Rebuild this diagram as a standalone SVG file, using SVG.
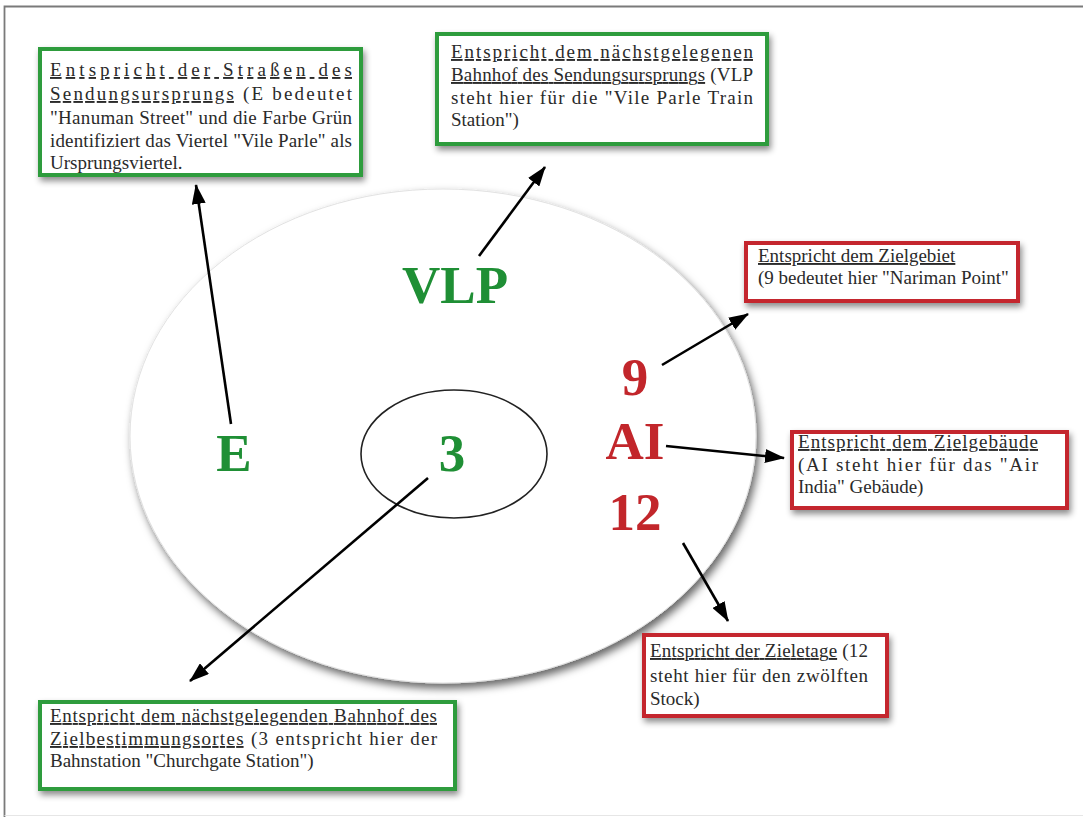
<svg xmlns="http://www.w3.org/2000/svg" width="1083" height="818" viewBox="0 0 1083 818">
<style>
.t{font-family:"Liberation Serif","Times New Roman",serif;font-size:19px;fill:#2a2a2a}
.u{text-decoration:underline}
.big{font-family:"Liberation Serif","Times New Roman",serif;font-weight:bold;font-size:53px;text-anchor:middle}
.g{fill:#1f8f35}
.r{fill:#c2262b}
.bg{fill:#fff;stroke:#2f9c3d;stroke-width:4}
.br{fill:#fff;stroke:#c4262e;stroke-width:4}
.conn line{stroke:#000;stroke-width:2.6;marker-end:url(#ah)}
</style>
<defs>
<filter id="sh" x="-10%" y="-10%" width="125%" height="135%">
<feDropShadow dx="2" dy="4" stdDeviation="3" flood-color="#000" flood-opacity="0.45"/>
</filter>
<filter id="esh" x="-10%" y="-10%" width="125%" height="125%">
<feDropShadow dx="3" dy="5" stdDeviation="4" flood-color="#000" flood-opacity="0.6"/>
</filter>
<marker id="ah" viewBox="0 0 20 14" refX="19" refY="7" markerWidth="20" markerHeight="14" markerUnits="userSpaceOnUse" orient="auto">
<path d="M0,0 L20,7 L0,14 z" fill="#000"/>
</marker>
</defs>
<rect width="1083" height="818" fill="#fff"/>
<path d="M4.5,817 L4.5,6.5 L1083,6.5" fill="none" stroke="#7a7a7a" stroke-width="1.8"/>
<line x1="4.5" y1="815.5" x2="1083" y2="815.5" stroke="#e6e6e6" stroke-width="1"/>

<g id="disc">
<ellipse cx="443" cy="436" rx="313" ry="247" fill="#fff" stroke="#e2e2e2" stroke-width="1" filter="url(#esh)"/>
<ellipse cx="454" cy="454" rx="93" ry="64" fill="none" stroke="#222" stroke-width="1.6"/>
</g>

<g id="label-VLP"><text class="big g" x="455" y="303">VLP</text></g>
<g id="label-E"><text class="big g" x="234" y="471">E</text></g>
<g id="label-3"><text class="big g" x="452" y="471">3</text></g>
<g id="label-9"><text class="big r" x="635" y="395">9</text></g>
<g id="label-AI"><text class="big r" x="635" y="459">AI</text></g>
<g id="label-12"><text class="big r" x="635" y="530">12</text></g>

<g class="conn" id="connectors">
<line x1="231" y1="424" x2="196" y2="185"/>
<line x1="479" y1="256" x2="545" y2="167"/>
<line x1="662" y1="365" x2="748" y2="314"/>
<line x1="666" y1="446" x2="784" y2="458"/>
<line x1="683" y1="543" x2="728" y2="621"/>
<line x1="428" y1="478" x2="190" y2="681"/>
</g>

<g id="box-strasse">
<rect class="bg" x="40" y="49" width="321" height="126" filter="url(#sh)"/>
<text class="t" x="50" y="76" textLength="302" lengthAdjust="spacing"><tspan class="u">Entspricht der Straßen des</tspan></text>
<text class="t" x="50" y="100" textLength="302" lengthAdjust="spacing"><tspan class="u">Sendungsursprungs</tspan> (E bedeutet</text>
<text class="t" x="50" y="124" textLength="302" lengthAdjust="spacing">"Hanuman Street" und die Farbe Grün</text>
<text class="t" x="50" y="147" textLength="302" lengthAdjust="spacing">identifiziert das Viertel "Vile Parle" als</text>
<text class="t" x="50" y="169">Ursprungsviertel.</text>
</g>

<g id="box-bahnhof-ursprung">
<rect class="bg" x="437" y="34" width="330" height="110" filter="url(#sh)"/>
<text class="t" x="451" y="58" textLength="302" lengthAdjust="spacing"><tspan class="u">Entspricht dem nächstgelegenen</tspan></text>
<text class="t" x="451" y="81" textLength="302" lengthAdjust="spacing"><tspan class="u">Bahnhof des Sendungsursprungs</tspan> (VLP</text>
<text class="t" x="451" y="104" textLength="302" lengthAdjust="spacing">steht hier für die "Vile Parle Train</text>
<text class="t" x="451" y="126">Station")</text>
</g>

<g id="box-zielgebiet">
<rect class="br" x="746" y="243" width="272" height="58" filter="url(#sh)"/>
<text class="t" x="758" y="262"><tspan class="u">Entspricht dem Zielgebiet</tspan></text>
<text class="t" x="758" y="284">(9 bedeutet hier "Nariman Point"</text>
</g>

<g id="box-zielgebaeude">
<rect class="br" x="792" y="432" width="275" height="76" filter="url(#sh)"/>
<text class="t" x="798" y="448" textLength="240" lengthAdjust="spacing"><tspan class="u">Entspricht dem Zielgebäude</tspan></text>
<text class="t" x="798" y="471" textLength="240" lengthAdjust="spacing">(AI steht hier für das "Air</text>
<text class="t" x="798" y="493">India" Gebäude)</text>
</g>

<g id="box-zieletage">
<rect class="br" x="644" y="635" width="243" height="81" filter="url(#sh)"/>
<text class="t" x="650" y="657" textLength="218" lengthAdjust="spacing"><tspan class="u">Entspricht der Zieletage</tspan> (12</text>
<text class="t" x="650" y="682" textLength="218" lengthAdjust="spacing">steht hier für den zwölften</text>
<text class="t" x="650" y="705">Stock)</text>
</g>

<g id="box-bahnhof-ziel">
<rect class="bg" x="40" y="702" width="415" height="87" filter="url(#sh)"/>
<text class="t" x="50" y="722" textLength="387" lengthAdjust="spacing"><tspan class="u">Entspricht dem nächstgelegenden Bahnhof des</tspan></text>
<text class="t" x="50" y="745" textLength="387" lengthAdjust="spacing"><tspan class="u">Zielbestimmungsortes</tspan> (3 entspricht hier der</text>
<text class="t" x="50" y="767">Bahnstation "Churchgate Station")</text>
</g>
</svg>
